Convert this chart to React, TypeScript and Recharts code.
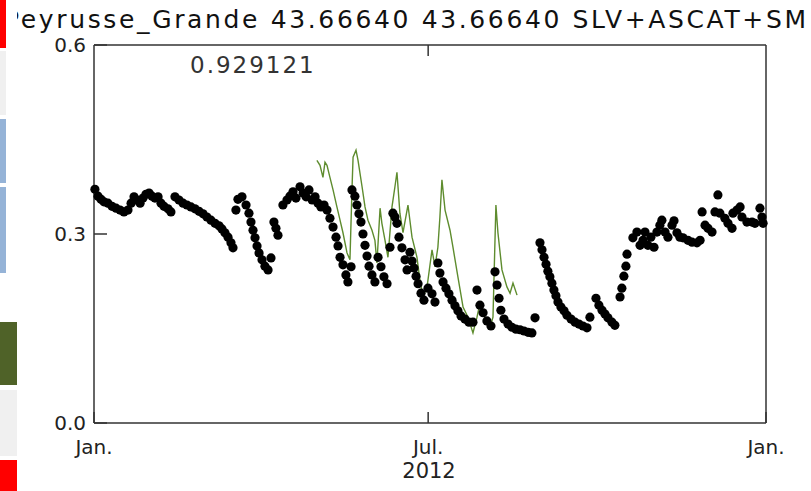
import React from "react"
import { ComposedChart, Scatter, Line, XAxis, YAxis } from "recharts"

// day of year (2012) / soil moisture
const observed: [number, number][] = [
  [0.5, 0.371], [2.2, 0.36], [3.8, 0.355], [5.4, 0.351], [7.6, 0.349], [9.8, 0.344], [12.0, 0.341], [14.2, 0.338],
  [16.3, 0.335], [18.5, 0.338], [20.2, 0.349], [21.8, 0.359], [23.4, 0.354], [25.1, 0.349], [26.7, 0.357], [28.3, 0.363],
  [30.0, 0.365], [31.6, 0.36], [33.2, 0.357], [34.9, 0.359], [36.5, 0.349], [38.1, 0.344], [40.3, 0.34], [41.9, 0.335],
  [44.1, 0.359], [46.3, 0.354], [48.5, 0.349], [50.6, 0.346], [52.8, 0.343], [55.0, 0.34], [57.2, 0.336], [59.4, 0.332],
  [61.5, 0.327], [63.7, 0.322], [65.9, 0.317], [68.1, 0.313], [69.7, 0.308], [71.3, 0.302], [73.0, 0.295], [74.6, 0.286],
  [75.7, 0.278],
  [77.3, 0.338], [78.4, 0.355], [80.6, 0.359], [82.8, 0.346], [84.4, 0.333], [85.5, 0.319], [86.6, 0.306], [87.7, 0.294],
  [88.8, 0.281], [89.9, 0.27], [91.5, 0.259], [93.1, 0.249], [94.8, 0.243], [96.4, 0.262],
  [98.0, 0.319], [99.1, 0.309], [100.2, 0.298],
  [102.9, 0.346], [105.1, 0.354], [106.7, 0.36], [108.4, 0.367], [110.0, 0.357], [112.2, 0.375], [113.9, 0.365], [115.5, 0.359],
  [117.1, 0.37], [118.8, 0.354], [120.4, 0.359], [122.0, 0.349], [123.6, 0.343], [125.3, 0.346], [126.9, 0.338], [128.5, 0.325],
  [130.2, 0.311], [131.8, 0.295], [132.9, 0.281], [134.0, 0.263], [135.6, 0.251], [137.2, 0.235], [138.3, 0.224], [140.0, 0.248],
  [140.5, 0.37], [142.1, 0.36], [143.2, 0.346], [144.3, 0.332], [145.4, 0.319], [146.5, 0.3], [147.6, 0.282], [148.7, 0.265],
  [149.8, 0.249], [151.4, 0.235], [153.0, 0.224], [154.7, 0.263], [156.3, 0.248], [157.9, 0.232], [159.6, 0.221],
  [161.2, 0.279], [162.8, 0.333], [163.9, 0.327], [165.0, 0.317], [166.1, 0.295], [167.7, 0.278], [169.4, 0.259], [170.5, 0.243],
  [172.1, 0.271], [173.2, 0.257], [174.3, 0.246], [175.4, 0.233], [176.5, 0.221], [178.1, 0.206], [179.7, 0.195], [181.9, 0.214],
  [184.1, 0.205], [185.7, 0.192],
  [187.3, 0.254], [188.4, 0.238], [190.1, 0.224], [191.7, 0.214], [193.3, 0.205], [195.0, 0.195], [196.6, 0.186], [198.2, 0.178],
  [199.9, 0.17], [202.0, 0.165], [204.2, 0.16], [206.4, 0.16], [208.6, 0.211], [210.2, 0.187], [211.9, 0.175], [214.0, 0.162],
  [216.2, 0.154], [218.4, 0.24], [219.5, 0.219], [220.6, 0.198], [221.6, 0.179], [223.3, 0.165], [225.5, 0.157], [227.6, 0.152],
  [229.8, 0.149], [232.0, 0.148], [234.2, 0.146], [236.4, 0.144], [238.5, 0.143], [240.2, 0.167],
  [242.9, 0.286], [244.0, 0.275], [245.1, 0.263], [246.2, 0.252], [247.2, 0.241], [248.3, 0.232], [249.4, 0.222], [250.5, 0.211],
  [251.6, 0.202], [252.7, 0.192], [254.3, 0.184], [256.0, 0.178], [257.6, 0.171], [259.8, 0.165], [262.0, 0.16], [264.1, 0.157],
  [266.3, 0.154], [268.5, 0.151], [270.1, 0.168],
  [273.4, 0.198], [275.0, 0.187], [276.7, 0.179], [278.3, 0.173], [279.9, 0.167], [282.1, 0.16], [283.7, 0.155],
  [286.5, 0.2], [287.5, 0.214], [288.6, 0.233], [289.7, 0.249], [290.3, 0.268], [293.5, 0.294], [295.7, 0.303], [297.4, 0.282],
  [299.0, 0.29], [300.1, 0.303], [301.7, 0.282], [303.3, 0.295], [305.0, 0.279], [306.6, 0.303], [308.2, 0.314], [309.3, 0.322],
  [311.0, 0.303], [312.6, 0.295], [314.8, 0.314], [315.9, 0.321], [317.5, 0.302], [319.1, 0.295], [320.8, 0.294], [323.5, 0.29],
  [325.7, 0.287], [328.4, 0.286], [330.1, 0.29], [331.2, 0.335], [332.8, 0.314], [334.4, 0.309], [336.6, 0.303], [338.2, 0.335],
  [339.8, 0.362], [340.9, 0.333], [343.6, 0.325], [345.3, 0.317], [347.5, 0.309], [348.0, 0.333], [350.2, 0.338], [351.9, 0.343],
  [352.9, 0.327], [355.6, 0.319], [358.4, 0.319], [360.0, 0.317], [362.7, 0.341], [363.8, 0.327], [364.4, 0.317],
]

const simulated: [number, number][] = [
  [121.4, 0.417], [123.1, 0.409], [124.7, 0.39], [125.8, 0.414], [126.9, 0.409], [128.5, 0.39], [130.2, 0.37], [132.3, 0.343],
  [134.0, 0.322], [135.6, 0.302], [137.8, 0.27], [139.4, 0.259], [140.5, 0.37], [141.1, 0.422], [142.7, 0.433], [143.8, 0.417],
  [146.0, 0.375], [147.6, 0.343], [149.2, 0.322], [151.4, 0.306], [153.0, 0.29], [154.1, 0.254], [155.8, 0.341], [156.8, 0.317],
  [158.5, 0.29], [160.1, 0.263], [162.3, 0.343], [163.9, 0.375], [165.0, 0.398], [166.6, 0.333], [168.3, 0.302], [171.0, 0.346],
  [173.2, 0.295], [175.9, 0.263], [177.5, 0.227], [179.2, 0.2], [181.4, 0.216], [184.1, 0.275], [185.7, 0.248], [187.3, 0.279],
  [188.4, 0.327], [189.5, 0.386], [191.2, 0.338], [193.9, 0.306], [195.5, 0.279], [198.2, 0.232], [201.0, 0.184], [203.7, 0.168],
  [206.4, 0.143], [208.6, 0.168], [210.2, 0.19], [212.9, 0.168], [215.7, 0.152], [217.3, 0.168], [218.9, 0.346], [220.0, 0.302],
  [222.2, 0.243], [224.9, 0.216], [226.6, 0.206], [228.2, 0.222], [230.4, 0.203],
]

const monthTicks = [0, 182, 366]
const monthLabels = ["Jan.", "Jul.", "Jan."]
const valueTicks = [0, 0.3, 0.6]
const title = "Peyrusse_Grande 43.66640 43.66640 SLV+ASCAT+SM"
const score = "0.929121"

const obsData = observed.map(([day, v]) => ({ day, v }))
const simData = simulated.map(([day, v]) => ({ day, v }))

const FONT = "'DejaVu Sans', sans-serif"
const AXIS = "#333"

const BottomTick = (props: any) => {
  const { x, y, index } = props
  return (
    <g>
      <line x1={x} y1={y} x2={x} y2={y - 11} stroke={AXIS} strokeWidth={1.5} />
      <text x={x} y={y + 31} textAnchor="middle" fontFamily={FONT} fontSize={20} fill="#222">
        {monthLabels[index]}
      </text>
    </g>
  )
}

const TopTick = (props: any) => {
  const { x, y } = props
  return <line x1={x} y1={y} x2={x} y2={y + 11} stroke={AXIS} strokeWidth={1.5} />
}

const LeftTick = (props: any) => {
  const { x, y, payload } = props
  return (
    <g>
      <line x1={x} y1={y} x2={x + 13} y2={y} stroke={AXIS} strokeWidth={1.5} />
      <text x={x - 8} y={y + 7} textAnchor="end" fontFamily={FONT} fontSize={20} fill="#222">
        {Number(payload.value).toFixed(1)}
      </text>
    </g>
  )
}

const RightTick = (props: any) => {
  const { x, y } = props
  return <line x1={x} y1={y} x2={x - 12} y2={y} stroke={AXIS} strokeWidth={1.5} />
}

const strip = [
  { top: 0, height: 48, width: 6, color: "#ff0000" },
  { top: 51, height: 64, width: 6, color: "#f0f0f0" },
  { top: 119, height: 64, width: 6, color: "#95b3d7" },
  { top: 187, height: 86, width: 6, color: "#95b3d7" },
  { top: 322, height: 63, width: 17, color: "#4f6228" },
  { top: 390, height: 66, width: 17, color: "#f0f0f0" },
  { top: 460, height: 31, width: 17, color: "#ff0000" },
]

export default function App() {
  return (
    <div style={{ position: "fixed", left: 0, top: 0, width: 811, height: 491, background: "#fff", overflow: "hidden" }}>
      <ComposedChart width={811} height={491} data={obsData} margin={{ top: 44, right: 44, bottom: 8, left: 34 }}>
        <XAxis
          dataKey="day"
          type="number"
          domain={[0, 366]}
          ticks={monthTicks}
          interval={0}
          height={60}
          tickLine={false}
          tickSize={0}
          tickMargin={0}
          tick={<BottomTick />}
          axisLine={{ stroke: AXIS, strokeWidth: 1.5 }}
        />
        <XAxis
          xAxisId="top"
          orientation="top"
          dataKey="day"
          type="number"
          domain={[0, 366]}
          ticks={[182]}
          height={1}
          tickLine={false}
          tickSize={0}
          tickMargin={0}
          tick={<TopTick />}
          axisLine={{ stroke: AXIS, strokeWidth: 1.5 }}
        />
        <YAxis
          dataKey="v"
          type="number"
          domain={[0, 0.6]}
          ticks={valueTicks}
          interval={0}
          width={60}
          tickLine={false}
          tickSize={0}
          tickMargin={0}
          tick={<LeftTick />}
          axisLine={{ stroke: AXIS, strokeWidth: 1.5 }}
        />
        <YAxis
          yAxisId="right"
          orientation="right"
          type="number"
          domain={[0, 0.6]}
          ticks={[0.3]}
          width={1}
          tickLine={false}
          tickSize={0}
          tickMargin={0}
          tick={<RightTick />}
          axisLine={{ stroke: AXIS, strokeWidth: 1.5 }}
        />
        <Line
          data={simData}
          dataKey="v"
          type="linear"
          stroke="#5e8c2e"
          strokeWidth={1.4}
          dot={false}
          activeDot={false}
          isAnimationActive={false}
        />
        <Scatter
          data={obsData}
          dataKey="v"
          isAnimationActive={false}
          shape={(p: any) => <circle cx={p.cx} cy={p.cy} r={4.6} fill="#000" />}
        />
      </ComposedChart>

      <svg width={811} height={42} style={{ position: "absolute", left: 0, top: 0 }}>
        <defs>
          <clipPath id="titleClip">
            <rect x={17} y={0} width={794} height={42} />
          </clipPath>
        </defs>
        <text x={4} y={28} fontFamily={FONT} fontSize={25} fill="#111" textLength={802} lengthAdjust="spacing" clipPath="url(#titleClip)">
          {title}
        </text>
      </svg>
      <div style={{ position: "absolute", left: 190, top: 52, fontFamily: FONT, fontSize: 23, letterSpacing: 2, color: "#333", lineHeight: "26px" }}>
        {score}
      </div>
      <div style={{ position: "absolute", left: 429, top: 459, transform: "translateX(-50%)", fontFamily: FONT, fontSize: 21, color: "#222" }}>
        2012
      </div>
      {strip.map((s, i) => (
        <div key={i} style={{ position: "absolute", left: 0, top: s.top, width: s.width, height: s.height, background: s.color }} />
      ))}
    </div>
  )
}
